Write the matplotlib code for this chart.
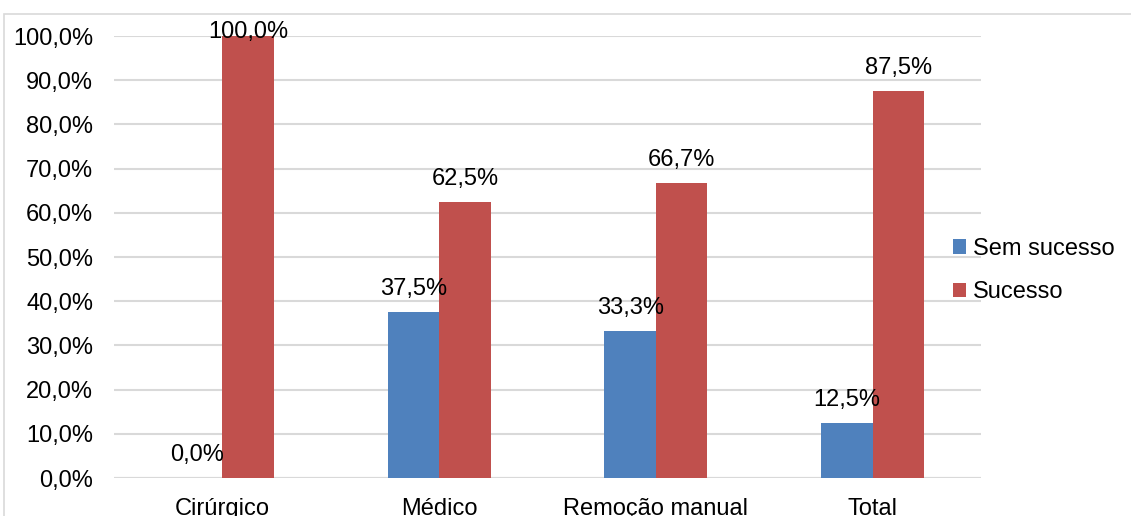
import matplotlib.pyplot as plt
from matplotlib.patches import Rectangle
import numpy as np

categorias = ["Cirúrgico", "Médico", "Remoção manual", "Total"]
sem_sucesso = [0.0, 37.5, 33.3, 12.5]
sucesso = [100.0, 62.5, 66.7, 87.5]
yticks = [0, 10, 20, 30, 40, 50, 60, 70, 80, 90, 100]

azul = "#4F81BD"
vermelho = "#C0504D"
grade = "#D9D9D9"

plt.rcParams["font.family"] = ["Liberation Sans", "DejaVu Sans"]
fs = 17

fig = plt.figure(figsize=(11.31, 5.16), dpi=100)
ax = fig.add_axes([0.1008, 0.0736, 0.7666, 0.8566])

x = np.arange(len(categorias))
w = 0.2376
b1 = ax.bar(x - w / 2, sem_sucesso, w, color=azul, label="Sem sucesso", zorder=3)
b2 = ax.bar(x + w / 2, sucesso, w, color=vermelho, label="Sucesso", zorder=3)

# value labels above each bar, kept inside the plot at the top
for bars, vals in ((b1, sem_sucesso), (b2, sucesso)):
    for rect, v in zip(bars, vals):
        y = min(v + 5.2, 100.9)
        ax.text(rect.get_x() + rect.get_width() / 2, y,
                f"{v:.1f}%".replace(".", ","), ha="center", va="center",
                fontsize=fs, zorder=4)

ax.set_xlim(-0.5, len(categorias) - 0.5)
ax.set_ylim(0, 100)
ax.set_yticks(yticks)
ax.set_yticklabels([f"{t:.1f}%".replace(".", ",") for t in yticks])
ax.set_xticks(x)
ax.set_xticklabels(categorias)
ax.tick_params(axis="y", length=0, pad=15, labelsize=fs)
ax.tick_params(axis="x", length=0, pad=14.5, labelsize=fs)
ax.yaxis.grid(True, color=grade, linewidth=1.5, zorder=0)
for s in ax.spines.values():
    s.set_visible(False)
ax.axhline(0, color=grade, linewidth=1.5, zorder=2)

fig.legend(loc="center left", bbox_to_anchor=(0.8426, 0.476), frameon=False,
           fontsize=fs, handlelength=0.55, handleheight=0.55,
           handletextpad=0.3, labelspacing=0.9, borderpad=0, borderaxespad=0)

# chart area border
fig.patches.append(Rectangle((3.5 / 1131, -0.1), 1.2, 0.9719 + 0.1,
                             transform=fig.transFigure, fill=False,
                             edgecolor=grade, linewidth=1.2))

fig.savefig("out.png", dpi=100)
